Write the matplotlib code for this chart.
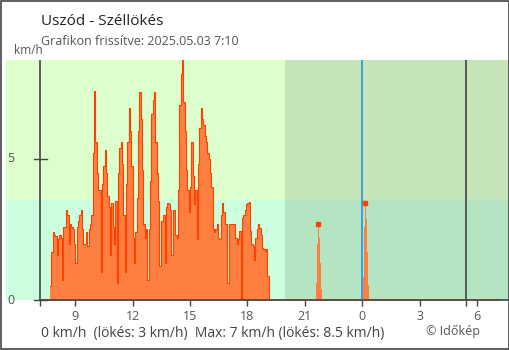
import numpy as np
import matplotlib
matplotlib.use("Agg")
import matplotlib.pyplot as plt
from matplotlib.patches import Rectangle

plt.rcParams['font.family'] = ['Open Sans', 'DejaVu Sans']

# gust values (km/h), main daytime block, starts 7:40, one value every ~4.2 min
gust_start = 7.677
gust_step = 0.0697
gust = [0.5, 1.7, 2.4, 2.3, 2.25, 1.6, 2.15, 2.3, 2.2, 0.7,
        2.6, 2.6, 3.2, 3.0, 2.0, 2.7, 2.6, 2.5, 2.0, 1.3,
        2.6, 2.8, 3.0, 3.2, 2.5, 2.0, 2.0, 2.4, 1.9, 2.5,
        2.7, 3.0, 5.2, 7.4, 5.6, 4.5, 3.9, 3.9, 1.0, 4.1,
        4.75, 5.3, 4.5, 3.7, 3.3, 1.6, 3.45, 2.6, 2.0, 3.5,
        0.6, 4.5, 5.4, 5.6, 4.8, 3.0, 1.0, 4.1, 5.6, 6.8,
        6.0, 4.75, 2.2, 1.3, 2.4, 3.6, 6.0, 7.35, 6.4, 4.6,
        2.7, 2.2, 2.5, 0.7, 2.5, 4.2, 6.6, 7.1, 7.35, 5.6,
        4.5, 3.5, 1.2, 2.8, 2.8, 3.0, 1.3, 3.3, 3.45, 3.4,
        3.2, 1.6, 3.2, 3.2, 2.3, 2.2, 3.9, 6.9, 8.0, 8.5,
        7.0, 6.0, 4.6, 3.9, 3.1, 4.0, 5.6, 4.4, 3.4, 3.9,
        2.15, 4.8, 6.1, 6.8, 6.4, 6.2, 5.8, 5.6, 5.2, 5.0,
        4.5, 4.0, 2.5, 2.4, 2.5, 2.7, 2.2, 2.15, 3.0, 3.45,
        3.1, 2.7, 2.7, 0.6, 2.7, 2.7, 2.7, 2.7, 2.7, 2.2,
        2.0, 2.15, 2.45, 0.0, 2.9, 3.0, 3.2, 3.4, 3.45, 3.47,
        2.45, 2.0, 1.9, 1.4, 2.2, 2.5, 2.7, 2.55, 2.3, 1.85,
        1.8, 1.75, 1.8, 0.85]

# two short night gusts, one value every ~3 min
spike1_start = 21.58
spike1 = [0.6, 2.0, 2.7, 2.2, 1.3, 0.4]
spike2_start = 24.02
spike2 = [0.8, 2.6, 3.45, 2.86, 1.7, 0.53]
spike_step = 0.0523

t_from = 7 + 10 / 60          # 7:10 previous day
t_to = 31 + 10 / 60           # 7:10 today
sunset = 19.97
sunrise = 29.44
midnight = 24.0
calm_limit = 3.55
ymax = 8.5

xticks = [9, 12, 15, 18, 21, 24, 27, 30]
xticklabels = ['9', '12', '15', '18', '21', '0', '3', '6']

fill_c = '#ff7f40'
edge_c = '#ff4000'
grey = '#444444'

fig = plt.figure(figsize=(5.1, 3.5), dpi=100)
ax = fig.add_axes([6 / 510, 50 / 350, 503 / 510, 240 / 350])
x0, x1 = 5.377, 31.67
ax.set_xlim(x0, x1)
ax.set_ylim(0, ymax)

# background bands
ax.fill_between([x0, sunset], calm_limit, ymax, color='#ddffcc', lw=0)
ax.fill_between([x0, sunset], 0, calm_limit, color='#ccffdd', lw=0)
ax.fill_between([sunset, x1], calm_limit, ymax, color='#c5e4b7', lw=0)
ax.fill_between([sunset, x1], 0, calm_limit, color='#b5e4c3', lw=0)


def draw_series(start, step, vals):
    t = start + step * np.arange(len(vals) + 1)
    v = np.append(vals, 0)
    ax.fill_between(t, 0, v, step='post', color=fill_c, lw=0, zorder=3)
    ax.step(t, v, where='post', color=edge_c, lw=0.8, zorder=4)


ax.plot([t_from, t_to], [0, 0], color=fill_c, lw=1.3, zorder=3, clip_on=False)
draw_series(gust_start, gust_step, gust)
for st, vals in [(spike1_start, spike1), (spike2_start, spike2)]:
    t = st + spike_step * np.arange(len(vals) + 1)
    v = np.append(vals, 0)
    ax.fill_between(t, 0, v, step='post', color=fill_c, lw=0, zorder=3)
    k = int(np.argmax(vals))
    ax.plot(st + spike_step * (k + 0.5), vals[k], 's', ms=3, color=edge_c,
            mec=edge_c, zorder=5)

# vertical reference lines
ax.axvline(t_from, color=grey, lw=1.2, zorder=6)
ax.axvline(sunrise, color=grey, lw=1.2, zorder=6)
ax.axvline(midnight, color='#1e96e6', lw=1.2, zorder=6)

for s in ['top', 'right', 'left']:
    ax.spines[s].set_visible(False)
ax.spines['bottom'].set_color(grey)
ax.spines['bottom'].set_linewidth(1.2)
ax.spines['bottom'].set_bounds(t_from, x1)
ax.spines['bottom'].set_zorder(7)

ax.set_xticks(xticks)
ax.set_xticklabels(xticklabels)
ax.set_xticks([t_from, sunrise], minor=True)
ax.tick_params(axis='x', which='both', length=4, width=1, color=grey,
               labelsize=9, labelcolor='#555555', pad=3.5)
ax.set_yticks([])

# y ticks drawn by hand
for yv in [0, 5]:
    ax.plot([6.83, 7.51], [yv, yv], color=grey, lw=1, zorder=6, clip_on=False)
    ax.text(5.45, yv, str(yv), fontsize=9, color='#555555', ha='left',
            va='center')

W, H = 510, 350
fig.text(41 / W, 1 - 25 / H, 'Uszód - Széllökés', fontsize=11,
         color='#222222', va='baseline')
fig.text(41 / W, 1 - 45 / H, 'Grafikon frissítve: 2025.05.03 7:10',
         fontsize=9, color='#555555', va='baseline')
fig.text(28 / W, 1 - 54.5 / H, 'km/h', fontsize=8.5, color='#555555',
         ha='center', va='baseline')
fig.text(41 / W, 1 - 337 / H,
         '0 km/h  (lökés: 3 km/h)  Max: 7 km/h (lökés: 8.5 km/h)',
         fontsize=10, color='#444444', va='baseline')
fig.text(453 / W, 1 - 335 / H, '© Időkép', fontsize=9, color='#555555',
         ha='center', va='baseline')

fig.patches.append(Rectangle((0.5 / W, 1 / H), 509 / W, 348.5 / H,
                             transform=fig.transFigure, fill=False,
                             ec=grey, lw=1.2))

fig.savefig('out.png', dpi=100)
